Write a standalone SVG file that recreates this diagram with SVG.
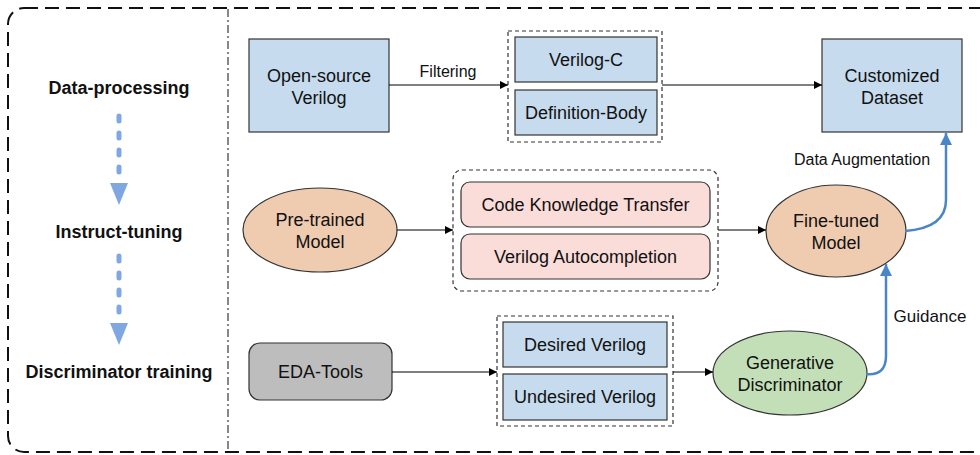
<svg xmlns="http://www.w3.org/2000/svg" width="980" height="455" viewBox="0 0 980 455">
<defs>
<marker id="ah" viewBox="0 0 10 10" refX="10" refY="5" markerWidth="10" markerHeight="8" markerUnits="userSpaceOnUse" orient="auto"><path d="M0,0 L10,5 L0,10 z" fill="#000"/></marker>
<marker id="bh" viewBox="0 0 10 10" refX="10" refY="5" markerWidth="14" markerHeight="12" markerUnits="userSpaceOnUse" orient="auto"><path d="M0,0 L10,5 L0,10 z" fill="#4A86C5"/></marker>
<style>
text{font-family:"Liberation Sans",Arial,Helvetica,sans-serif;fill:#111;text-anchor:middle}
.n{font-size:18px}
.lab{font-size:16px}
.side{font-size:18px;font-weight:bold}
.blue{fill:#C6DBEE;stroke:#333;stroke-width:1.2}
.pink{fill:#FADCD9;stroke:#333;stroke-width:1.2}
.orange{fill:#EFCBB0;stroke:#333;stroke-width:1.2}
.green{fill:#C3DFB8;stroke:#333;stroke-width:1.2}
.grey{fill:#BDBDBD;stroke:#333;stroke-width:1.2}
.grp{fill:none;stroke:#333;stroke-width:1.2;stroke-dasharray:4 3}
.c{stroke:#000;stroke-width:1;fill:none;marker-end:url(#ah)}
.cb{stroke:#4A86C5;stroke-width:2.5;fill:none;marker-end:url(#bh)}
.sd{stroke:#7FA8E2;stroke-width:5;stroke-linecap:round;stroke-dasharray:5 12;fill:none}
</style>
</defs>
<rect x="8" y="8" width="990" height="444" rx="16" fill="none" stroke="#111" stroke-width="2" stroke-dasharray="14 7"/>
<line x1="228" y1="9" x2="228" y2="451" stroke="#111" stroke-width="1" stroke-dasharray="8 3 2 3"/>
<g id="stages">
<text class="side" x="119" y="94">Data-processing</text>
<text class="side" x="119" y="238">Instruct-tuning</text>
<text class="side" x="119" y="378">Discriminator training</text>
<line class="sd" x1="119" y1="116" x2="119" y2="178"/>
<path d="M110,183 L128,183 L119,205 z" fill="#7FA8E2"/>
<line class="sd" x1="119" y1="256" x2="119" y2="318"/>
<path d="M110,323 L128,323 L119,345 z" fill="#7FA8E2"/>
</g>
<g id="open-source">
<rect class="blue" x="249" y="39" width="140" height="93"/>
<text class="n" x="319" y="82">Open-source</text>
<text class="n" x="319" y="104">Verilog</text>
</g>
<g id="group1">
<rect class="grp" x="508" y="31" width="154" height="111"/>
</g>
<g id="verilog-c">
<rect class="blue" x="515" y="37" width="142" height="45"/>
<text class="n" x="586" y="66">Verilog-C</text>
</g>
<g id="definition-body">
<rect class="blue" x="515" y="90" width="142" height="45"/>
<text class="n" x="586" y="119">Definition-Body</text>
</g>
<g id="customized">
<rect class="blue" x="822" y="39" width="140" height="93"/>
<text class="n" x="892" y="82">Customized</text>
<text class="n" x="892" y="104">Dataset</text>
</g>
<g id="pretrained">
<ellipse class="orange" cx="320" cy="230" rx="77" ry="42"/>
<text class="n" x="320" y="226">Pre-trained</text>
<text class="n" x="320" y="248">Model</text>
</g>
<g id="group2">
<rect class="grp" x="453" y="170" width="265" height="121" rx="9"/>
</g>
<g id="code-knowledge">
<rect class="pink" x="461" y="182" width="249" height="45" rx="9"/>
<text class="n" x="585.5" y="211">Code Knowledge Transfer</text>
</g>
<g id="autocompletion">
<rect class="pink" x="461" y="234" width="249" height="45" rx="9"/>
<text class="n" x="585.5" y="263">Verilog Autocompletion</text>
</g>
<g id="finetuned">
<ellipse class="orange" cx="836" cy="231" rx="70" ry="46"/>
<text class="n" x="836" y="227">Fine-tuned</text>
<text class="n" x="836" y="249">Model</text>
</g>
<g id="eda">
<rect class="grey" x="249" y="343" width="143" height="57" rx="11"/>
<text class="n" x="320.5" y="378">EDA-Tools</text>
</g>
<g id="group3">
<rect class="grp" x="497" y="316" width="176" height="110"/>
</g>
<g id="desired">
<rect class="blue" x="503" y="322" width="164" height="45"/>
<text class="n" x="585" y="351">Desired Verilog</text>
</g>
<g id="undesired">
<rect class="blue" x="503" y="374" width="164" height="46"/>
<text class="n" x="585" y="403">Undesired Verilog</text>
</g>
<g id="discriminator">
<ellipse class="green" cx="790" cy="373" rx="77" ry="42"/>
<text class="n" x="790" y="369">Generative</text>
<text class="n" x="790" y="391">Discriminator</text>
</g>
<g id="connectors">
<line class="c" x1="389" y1="85" x2="508" y2="85"/>
<text class="lab" x="448" y="77">Filtering</text>
<line class="c" x1="662" y1="85" x2="822" y2="85"/>
<line class="c" x1="397" y1="230" x2="453" y2="230"/>
<line class="c" x1="718" y1="230" x2="766" y2="230"/>
<line class="c" x1="392" y1="372" x2="497" y2="372"/>
<line class="c" x1="673" y1="372" x2="713" y2="372"/>
<path class="cb" d="M905,231 Q946,228 946,200 L946,133"/>
<text class="lab" x="862" y="165">Data Augmentation</text>
<path class="cb" d="M866,374 Q886,376 886,356 L886,264"/>
<text class="lab" x="930" y="322" style="font-size:17px">Guidance</text>
</g>
</svg>
